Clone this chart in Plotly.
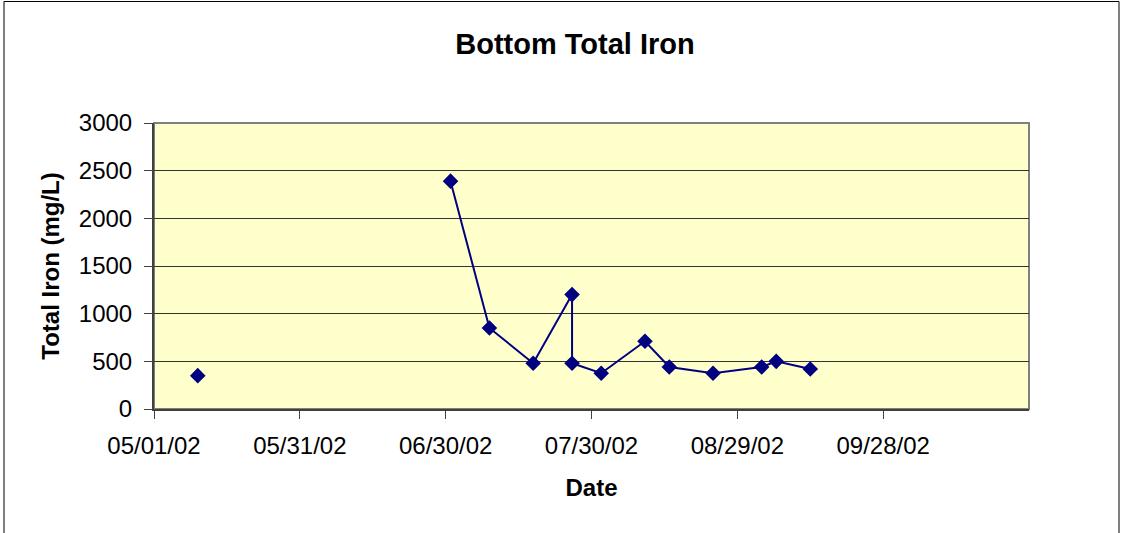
import plotly.graph_objects as go

# ---- data ----
dates = ["2002-05-10", "2002-07-01", "2002-07-09", "2002-07-18", "2002-07-26",
         "2002-07-26", "2002-08-01", "2002-08-10", "2002-08-15", "2002-08-24",
         "2002-09-03", "2002-09-06", "2002-09-13"]
total_iron = [350, 2390, 850, 480, 1200, 480, 375, 710, 440, 375, 440, 500, 420]

x_tick_dates = ["2002-05-01", "2002-05-31", "2002-06-30", "2002-07-30",
                "2002-08-29", "2002-09-28"]
x_tick_labels = ["05/01/02", "05/31/02", "06/30/02", "07/30/02", "08/29/02", "09/28/02"]
y_ticks = [0, 500, 1000, 1500, 2000, 2500, 3000]
x_range = ["2002-05-01", "2002-10-28"]
y_range = [0, 3000]

title_text = "Bottom Total Iron"
x_title = "Date"
y_title = "Total Iron (mg/L)"

# ---- figure ----
W, H = 1123, 533
L, R, T, B = 154, 94, 123, 124
pw, ph = W - L - R, H - T - B

navy = "#000080"
font_family = "Liberation Sans, Arial, sans-serif"

fig = go.Figure()
# isolated first sample (not connected to the rest)
fig.add_trace(go.Scatter(
    x=dates[:1], y=total_iron[:1], mode="markers",
    marker=dict(symbol="diamond", size=12, color=navy),
    showlegend=False, cliponaxis=False))
fig.add_trace(go.Scatter(
    x=dates[1:], y=total_iron[1:], mode="lines+markers",
    line=dict(color=navy, width=2),
    marker=dict(symbol="diamond", size=12, color=navy),
    showlegend=False, cliponaxis=False))

def px_x(p):
    return (p - L) / pw

def px_y(p):
    return (H - B - p) / ph

shapes = [
    # plot-area border (gray, top/right visible)
    dict(type="rect", xref="paper", yref="paper", x0=0, x1=1, y0=0, y1=1,
         line=dict(color="#808080", width=2), layer="below"),
    # outer chart frame
    dict(type="rect", xref="paper", yref="paper",
         x0=px_x(4), x1=px_x(1119), y0=px_y(560), y1=px_y(1.5),
         line=dict(color="#000000", width=1), layer="below"),
]

fig.update_layout(
    width=W, height=H,
    margin=dict(l=L, r=R, t=T, b=B, pad=0, autoexpand=False),
    paper_bgcolor="white",
    plot_bgcolor="#FFFFCC",
    font=dict(family=font_family, color="black", size=24),
    title=dict(text="<b>" + title_text + "</b>", x=575 / W, xanchor="center",
               y=1 - 44 / H, yanchor="middle", yref="container",
               font=dict(size=29, family=font_family)),
    shapes=shapes,
    showlegend=False,
)

fig.update_xaxes(
    type="date", range=x_range,
    tickvals=x_tick_dates, ticktext=x_tick_labels,
    ticks="outside", ticklen=8, tickcolor="#404040", tickwidth=1,
    showline=True, linecolor="#404040", linewidth=2,
    showgrid=False, zeroline=False,
    tickfont=dict(size=24),
    ticklabelstandoff=6,
    title=dict(text="<b>" + x_title + "</b>", font=dict(size=24), standoff=21),
)
fig.update_yaxes(
    range=y_range, tickvals=y_ticks,
    ticks="outside", ticklen=8, tickcolor="#404040", tickwidth=1,
    showline=True, linecolor="#404040", linewidth=2,
    showgrid=True, gridcolor="#333333", gridwidth=1,
    zeroline=False,
    tickfont=dict(size=24),
    ticklabelstandoff=7,
    title=dict(text="<b>" + y_title + "</b>", font=dict(size=24), standoff=12),
)

fig.write_html("out.html", config={"displayModeBar": False},
               post_script="document.body.style.margin='0px';")
